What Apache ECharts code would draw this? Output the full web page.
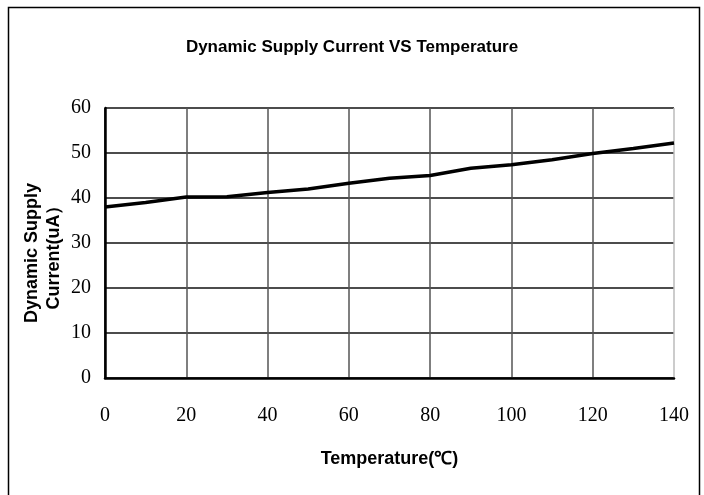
<!DOCTYPE html>
<html>
<head>
<meta charset="utf-8">
<script src="https://cdn.jsdelivr.net/npm/echarts@6/dist/echarts.min.js"></script>
<style>
  html, body { margin: 0; padding: 0; background: #fff; }
  #main { width: 704px; height: 495px; }
</style>
</head>
<body>
<div id="main"></div>
<script>
var temps = [0, 10, 20, 30, 40, 50, 60, 70, 80, 90, 100, 110, 120, 130, 140];
var current = [38.0, 39.0, 40.2, 40.3, 41.2, 42.0, 43.3, 44.4, 45.0, 46.6, 47.4, 48.5, 49.9, 51.0, 52.2];

var narrow = '"Liberation Sans Narrow", "Arial Narrow", sans-serif';
var serif = '"Liberation Serif", serif';

var myChart = echarts.init(document.getElementById('main'));
var option = {
  backgroundColor: '#fff',
  animation: false,
  title: {
    text: 'Dynamic Supply Current VS Temperature',
    left: 'center',
    top: 34,
    textStyle: {
      fontFamily: narrow,
      fontWeight: 'bold',
      fontSize: 17,
      color: '#000'
    }
  },
  graphic: [{
    type: 'rect',
    shape: { x: 8.5, y: 7.5, width: 691, height: 500 },
    style: { fill: 'none', stroke: '#000', lineWidth: 1.5 },
    silent: true
  }],
  grid: {
    left: 105,
    right: 30,
    top: 108,
    bottom: 117
  },
  xAxis: {
    type: 'value',
    min: 0,
    max: 140,
    interval: 20,
    name: 'Temperature(℃)',
    nameLocation: 'middle',
    nameGap: 72,
    nameTextStyle: {
      fontFamily: narrow,
      fontWeight: 'bold',
      fontSize: 18,
      color: '#000'
    },
    axisLine: { lineStyle: { color: '#000', width: 2.5 } },
    axisTick: { show: false },
    axisLabel: {
      margin: 28,
      fontFamily: serif,
      fontSize: 20,
      color: '#000'
    },
    splitLine: {
      show: true,
      lineStyle: {
        color: ['#000', '#555', '#555', '#555', '#555', '#555', '#555', '#bbb'],
        width: 1.5
      }
    }
  },
  yAxis: {
    type: 'value',
    min: 0,
    max: 60,
    interval: 10,
    name: 'Dynamic Supply\nCurrent(uA）',
    nameLocation: 'middle',
    nameRotate: 90,
    nameGap: 40,
    nameMoveOverlap: false,
    nameTextStyle: {
      fontFamily: '"Liberation Sans", Arial, sans-serif',
      fontWeight: 'bold',
      fontSize: 18,
      lineHeight: 22,
      padding: [0, 20, 0, 0],
      color: '#000'
    },
    axisLine: { show: true, lineStyle: { color: '#000', width: 2.5 } },
    axisTick: { show: false },
    axisLabel: {
      margin: 14,
      fontFamily: serif,
      fontSize: 20,
      color: '#000'
    },
    splitLine: {
      show: true,
      lineStyle: { color: '#111', width: 1.5 }
    }
  },
  series: [{
    name: 'Current',
    type: 'line',
    data: temps.map(function (t, i) { return [t, current[i]]; }),
    showSymbol: false,
    lineStyle: { color: '#000', width: 3.5 }
  }]
};

myChart.setOption(option);
</script>
</body>
</html>
